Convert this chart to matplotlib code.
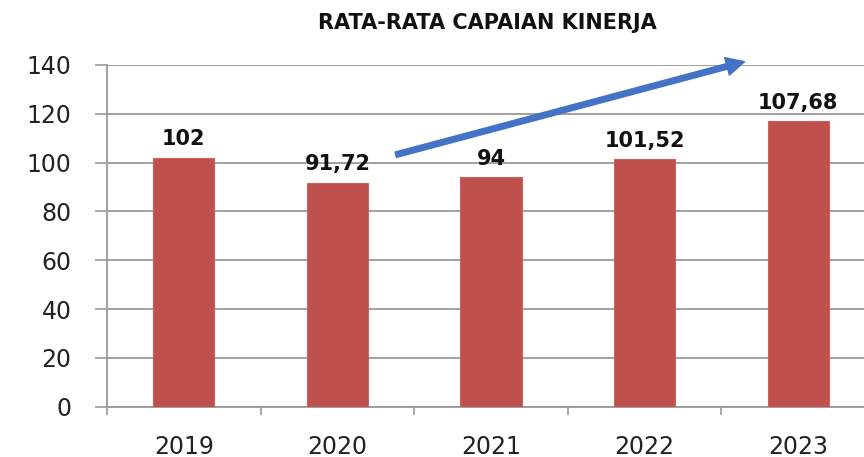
import matplotlib
matplotlib.use("Agg")
import matplotlib.pyplot as plt
import numpy as np

# Data
years = ["2019", "2020", "2021", "2022", "2023"]
bar_values = [102, 91.72, 94, 101.52, 117]
value_labels = ["102", "91,72", "94", "101,52", "107,68"]
yticks = [0, 20, 40, 60, 80, 100, 120, 140]
title = "RATA-RATA CAPAIAN KINERJA"

fig = plt.figure(figsize=(8.64, 4.57), dpi=100)
ax = fig.add_axes([0.1238, 0.110, 0.889, 0.748])

x = np.arange(len(years))
bar_color = "#C0504D"
ax.bar(x, bar_values, width=0.4, color=bar_color, edgecolor="#D06060", linewidth=0.8, zorder=3)

ax.set_xlim(-0.5, len(years) - 0.5)
ax.set_ylim(0, 140)
ax.set_yticks(yticks)
ax.set_yticklabels([str(t) for t in yticks], fontsize=17, color="#222222", family="DejaVu Sans")
ax.set_xticks(x)
ax.set_xticklabels(years, fontsize=17, color="#222222", family="DejaVu Sans")
ax.set_xticks(np.arange(-0.5, len(years)), minor=True)

ax.tick_params(axis="y", length=8.6, width=1.2, color="#999999", pad=17)
ax.tick_params(axis="x", which="major", length=0, pad=20)
ax.tick_params(axis="x", which="minor", length=5.8, width=1.2, color="#999999")

ax.grid(axis="y", color="#9A9A9A", linewidth=1.3, zorder=0)
ax.set_axisbelow(True)
for s in ["top", "right"]:
    ax.spines[s].set_visible(False)
for s in ["left", "bottom"]:
    ax.spines[s].set_color("#999999")
    ax.spines[s].set_linewidth(1.3)

for xi, v, lab in zip(x, bar_values, value_labels):
    ax.annotate(lab, (xi, v), xytext=(0, 6), textcoords="offset points",
                ha="center", va="bottom", fontsize=15, fontweight="bold",
                color="#111111", family="DejaVu Sans")

# Trend arrow
ax.annotate("", xy=(3.65, 141.3), xytext=(1.38, 103.2),
            arrowprops=dict(width=4.0, headwidth=13, headlength=13,
                            facecolor="#4472C4", edgecolor="#4472C4",
                            shrink=0.0),
            annotation_clip=False)

fig.text(0.564, 0.950, title, ha="center", va="center", fontsize=15,
         fontweight="bold", color="#111111", family="DejaVu Sans")

fig.savefig("out.png", dpi=100)
